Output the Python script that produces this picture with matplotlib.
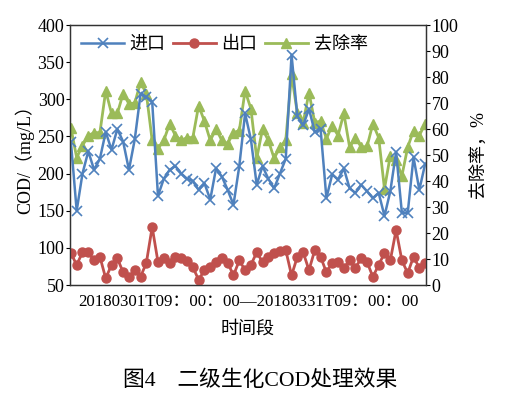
import numpy as np
import matplotlib
matplotlib.use("Agg")
from matplotlib import pyplot as plt

plt.rcParams['font.family'] = ['Liberation Serif', 'Noto Sans CJK SC']
plt.rcParams['axes.unicode_minus'] = False

# COD readings, 2018-03-01 to 2018-03-31 (mg/L), removal rate (%)
inlet = [243, 150, 200, 230, 205, 220, 256, 232, 260, 243, 205, 246, 307, 303, 297,
         170, 193, 205, 210, 200, 193, 190, 178, 187, 165, 207, 196, 178, 158, 210,
         281, 246, 185, 210, 193, 180, 200, 220, 360, 277, 265, 287, 256, 260, 167,
         199, 192, 207, 180, 174, 185, 176, 167, 174, 143, 176, 229, 147, 147, 222,
         178, 213]
outlet = [93, 77, 94, 94, 83, 88, 59, 77, 86, 67, 61, 70, 61, 80, 128,
          81, 86, 80, 88, 86, 82, 74, 57, 70, 74, 81, 86, 80, 63, 83,
          70, 77, 94, 81, 88, 93, 96, 97, 63, 88, 94, 70, 97, 88, 67,
          80, 81, 73, 83, 73, 86, 81, 61, 77, 93, 83, 124, 83, 66, 88,
          73, 80]
removal = [60.5, 49, 53.6, 57.5, 58.6, 58.6, 74.7, 66, 66, 73.6, 69.7, 70, 78, 73.6, 55.6,
           52.5, 55.6, 62, 57.5, 55.6, 56.7, 56.7, 69, 63, 55.6, 60, 55.6, 54.4, 58.6, 59.4,
           74.7, 67.8, 48.7, 60, 55.6, 48.7, 53, 55.6, 81, 66, 62.5, 74, 62.5, 63, 56.3,
           61.3, 57.5, 66, 53, 56.7, 53, 53.3, 62, 56.7, 37, 49.8, 47.9, 42, 53, 59.4,
           57.5, 62]
period_label = "20180301T09：00：00—20180331T09：00：00"

x = np.arange(len(inlet))

fig = plt.figure(figsize=(5.21, 3.99), dpi=100)
ax = fig.add_axes([70/521, 1-285/399, 356/521, 260/399])
ax2 = ax.twinx()

l1, = ax.plot(x, inlet, color='#4F81BD', marker='x', markersize=6.5, lw=1.8, mew=1.2, label='进口')
l2, = ax.plot(x, outlet, color='#C0504D', marker='o', markersize=6.5, lw=2, label='出口')
l3, = ax2.plot(x, removal, color='#9BBB59', marker='^', markersize=6.5, lw=2, label='去除率')

# inlet/outlet drawn over the removal line
ax.set_zorder(ax2.get_zorder() + 1)
ax.patch.set_visible(False)

ax.set_xlim(-0.15, len(x) - 0.85)
ax.set_ylim(50, 400)
ax.set_yticks(range(50, 401, 50))
ax2.set_ylim(0, 100)
ax2.set_yticks(range(0, 101, 10))
ax.set_xticks([])

for a in (ax, ax2):
    a.tick_params(axis='y', labelsize=13, length=3, width=0.8, pad=1)
    for s in a.spines.values():
        s.set_linewidth(0.9)
        s.set_color('#333333')

ax.set_ylabel('COD/（mg/L）', fontsize=13, labelpad=2)
ax2.set_ylabel('去除率，%', fontsize=13, labelpad=8)

fig.text((80 + 416) / 2 / 521, 1-302/399, period_label, ha='center', va='center', fontsize=12.2)
fig.text((80 + 416) / 2 / 521, 1-329/399, '时间段', ha='center', va='center', fontsize=13)

ax.legend(handles=[l1, l2, l3], loc='upper left', ncol=3, frameon=False, fontsize=13,
          handlelength=2.4, handletextpad=0.3, columnspacing=0.4,
          borderaxespad=0.2, bbox_to_anchor=(0.0, 1.0))

fig.text(0.5, 1-381/399, '图4　二级生化COD处理效果', ha='center', va='center', fontsize=15.7)

fig.savefig('out.png', dpi=100)
